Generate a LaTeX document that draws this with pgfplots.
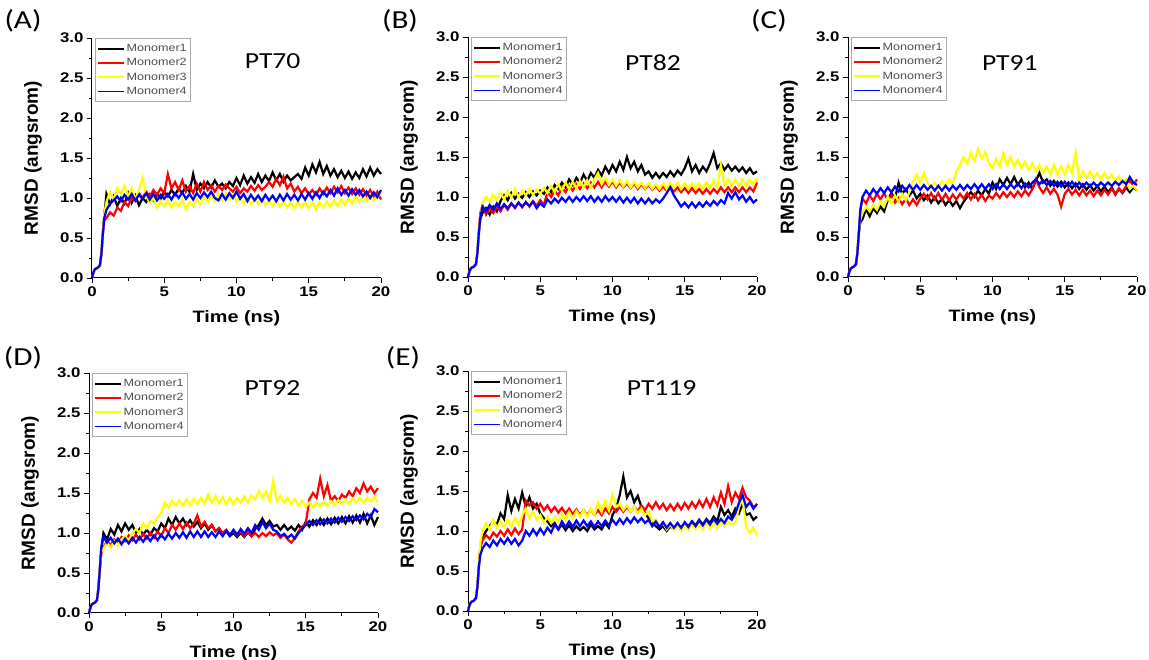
\documentclass[border=0pt]{standalone}
\usepackage{fontspec}
\setmainfont{Liberation Sans}[FakeStretch=1.2]
\newfontfamily\carl{Carlito}[FakeStretch=1.2]
\newfontfamily\ysans{Liberation Sans}
\usepackage{pgfplots}
\usepackage{pgfplotstable}
\pgfplotsset{compat=1.18}
\definecolor{legtext}{RGB}{80,80,80}
\definecolor{legframe}{RGB}{170,170,170}
\definecolor{cblack}{RGB}{0,0,0}
\definecolor{cred}{RGB}{255,0,0}
\definecolor{cyellow}{RGB}{255,255,0}
\definecolor{cblue}{RGB}{0,0,255}

\pgfplotstableread{
t a b c d
0.00 0.00 0.00 0.00 0.00
0.10 0.07 0.07 0.07 0.07
0.20 0.11 0.11 0.11 0.11
0.40 0.13 0.13 0.13 0.13
0.55 0.16 0.16 0.16 0.16
0.65 0.30 0.30 0.30 0.30
0.75 0.55 0.55 0.55 0.55
0.85 0.78 0.72 0.80 0.75
1.00 1.05 0.75 0.95 0.85
1.25 0.92 0.82 1.08 0.93
1.50 1.02 0.78 0.98 0.97
1.75 0.90 0.88 1.12 1.02
2.00 1.00 0.84 1.05 0.96
2.25 0.93 0.95 1.15 1.04
2.50 1.06 0.90 1.02 0.98
2.75 0.94 1.00 1.12 1.05
3.00 1.03 0.96 0.98 0.97
3.25 0.91 1.06 1.10 1.04
3.50 1.00 1.00 1.25 0.99
3.75 0.95 1.08 1.02 1.06
4.00 1.04 1.02 0.94 0.98
4.25 0.97 1.10 1.00 1.05
4.50 1.05 1.04 0.88 0.97
4.75 0.99 1.12 0.96 1.04
5.00 1.08 1.06 0.90 0.99
5.25 1.02 1.30 0.97 1.05
5.50 1.10 1.12 0.88 0.98
5.75 1.04 1.20 0.95 1.06
6.00 1.12 1.10 0.90 1.00
6.25 1.06 1.22 0.98 1.07
6.50 1.15 1.08 0.86 0.99
6.75 1.08 1.15 0.95 1.05
7.00 1.30 1.06 0.90 0.98
7.25 1.10 1.18 0.99 1.06
7.50 1.18 1.08 0.92 1.00
7.75 1.12 1.20 1.02 1.07
8.00 1.20 1.10 0.95 1.01
8.25 1.13 1.16 1.04 1.08
8.50 1.22 1.08 0.96 1.00
8.75 1.14 1.15 1.05 0.97
9.00 1.18 1.10 0.97 1.05
9.25 1.12 1.17 1.06 0.98
9.50 1.20 1.12 0.98 1.06
9.75 1.15 1.08 1.04 1.00
10.00 1.25 1.14 0.96 1.08
10.25 1.16 1.06 1.02 0.99
10.50 1.28 1.12 0.93 1.05
10.75 1.18 1.08 1.00 0.96
11.00 1.26 1.15 0.92 1.04
11.25 1.19 1.09 0.99 0.97
11.50 1.30 1.16 0.93 1.03
11.75 1.20 1.10 1.00 0.96
12.00 1.28 1.14 0.91 1.04
12.25 1.21 1.20 0.98 0.97
12.50 1.32 1.14 0.90 1.03
12.75 1.22 1.24 0.97 0.96
13.00 1.30 1.16 0.89 1.04
13.25 1.20 1.27 0.96 0.97
13.50 1.28 1.12 0.88 1.05
13.75 1.22 1.18 0.95 0.98
14.00 1.26 1.08 0.87 1.04
14.25 1.30 1.14 0.95 0.97
14.50 1.24 1.06 0.88 1.05
14.75 1.38 1.12 0.96 0.98
15.00 1.28 1.05 0.87 1.06
15.25 1.42 1.10 0.95 0.99
15.50 1.32 1.04 0.86 1.07
15.75 1.45 1.12 0.95 1.00
16.00 1.30 1.05 0.88 1.08
16.25 1.40 1.13 0.96 1.02
16.50 1.28 1.06 0.89 1.10
16.75 1.36 1.14 0.97 1.03
17.00 1.26 1.07 0.90 1.12
17.25 1.34 1.15 0.98 1.04
17.50 1.25 1.06 0.91 1.10
17.75 1.33 1.13 1.00 1.03
18.00 1.24 1.05 0.93 1.11
18.25 1.32 1.12 1.02 1.04
18.50 1.25 1.04 0.95 1.10
18.75 1.36 1.11 1.03 1.02
19.00 1.27 1.03 0.96 1.08
19.25 1.38 1.10 1.04 1.00
19.50 1.28 1.02 0.97 1.07
19.75 1.36 1.08 1.02 1.01
20.00 1.30 0.98 1.05 1.10
}\tA

\pgfplotstableread{
t a b c d
0.00 0.00 0.00 0.00 0.00
0.10 0.07 0.07 0.07 0.07
0.20 0.11 0.11 0.11 0.11
0.40 0.13 0.13 0.13 0.13
0.55 0.16 0.16 0.16 0.16
0.65 0.30 0.30 0.30 0.30
0.75 0.55 0.55 0.55 0.55
0.85 0.72 0.80 0.75 0.74
1.00 0.80 0.90 0.92 0.88
1.25 0.86 0.78 1.00 0.82
1.50 0.78 0.86 0.94 0.90
1.75 0.88 0.80 1.03 0.84
2.00 0.82 0.88 0.96 0.92
2.25 0.95 0.82 1.05 0.85
2.50 1.02 0.90 0.97 0.91
2.75 0.96 0.84 1.08 0.86
3.00 1.05 0.92 0.99 0.92
3.25 0.98 0.86 1.10 0.87
3.50 1.04 0.93 1.00 0.93
3.75 0.99 0.87 1.08 0.88
4.00 1.06 0.94 1.02 0.93
4.25 1.00 0.88 1.10 0.89
4.50 1.07 0.95 1.03 0.94
4.75 1.02 0.89 1.09 0.86
5.00 1.08 0.96 1.04 0.92
5.25 1.04 0.90 1.12 0.88
5.50 1.12 1.06 1.05 0.97
5.75 1.06 1.00 1.14 0.92
6.00 1.15 1.08 1.06 0.98
6.25 1.10 1.02 1.16 0.93
6.50 1.18 1.12 1.08 0.99
6.75 1.12 1.06 1.18 0.94
7.00 1.22 1.14 1.10 1.00
7.25 1.15 1.08 1.19 0.94
7.50 1.24 1.16 1.11 1.00
7.75 1.18 1.10 1.20 0.95
8.00 1.28 1.17 1.12 1.01
8.25 1.20 1.11 1.21 0.95
8.50 1.30 1.18 1.12 1.01
8.75 1.24 1.12 1.22 0.94
9.00 1.34 1.19 1.30 1.00
9.25 1.27 1.12 1.16 0.94
9.50 1.38 1.19 1.24 1.01
9.75 1.30 1.13 1.15 0.95
10.00 1.40 1.19 1.22 1.00
10.25 1.32 1.12 1.14 0.94
10.50 1.44 1.18 1.21 1.00
10.75 1.34 1.12 1.13 0.93
11.00 1.50 1.17 1.20 0.99
11.25 1.36 1.11 1.12 0.93
11.50 1.44 1.17 1.19 0.99
11.75 1.32 1.10 1.12 0.92
12.00 1.40 1.16 1.18 0.98
12.25 1.28 1.10 1.11 0.92
12.50 1.32 1.15 1.17 0.98
12.75 1.24 1.09 1.10 0.92
13.00 1.30 1.14 1.16 0.97
13.25 1.24 1.08 1.10 0.93
13.50 1.30 1.13 1.17 0.98
13.75 1.25 1.08 1.10 1.05
14.00 1.32 1.13 1.18 1.12
14.25 1.26 1.07 1.11 1.02
14.50 1.33 1.12 1.18 0.95
14.75 1.28 1.06 1.10 0.88
15.00 1.36 1.11 1.17 0.93
15.25 1.48 1.05 1.10 0.87
15.50 1.32 1.11 1.17 0.93
15.75 1.40 1.05 1.10 0.87
16.00 1.30 1.10 1.17 0.93
16.25 1.38 1.04 1.10 0.88
16.50 1.32 1.10 1.18 0.94
16.75 1.42 1.04 1.11 0.89
17.00 1.55 1.10 1.20 0.95
17.25 1.36 1.05 1.12 0.90
17.50 1.42 1.12 1.40 0.96
17.75 1.34 1.06 1.14 0.92
18.00 1.40 1.12 1.22 1.05
18.25 1.33 1.06 1.14 0.98
18.50 1.38 1.12 1.22 1.06
18.75 1.32 1.06 1.14 0.97
19.00 1.37 1.12 1.22 1.02
19.25 1.30 1.06 1.14 0.94
19.50 1.36 1.12 1.22 1.00
19.75 1.29 1.07 1.15 0.93
20.00 1.32 1.18 1.24 0.97
}\tB

\pgfplotstableread{
t a b c d
0.00 0.00 0.00 0.00 0.00
0.10 0.07 0.07 0.07 0.07
0.20 0.11 0.11 0.11 0.11
0.40 0.13 0.13 0.13 0.13
0.55 0.16 0.16 0.16 0.16
0.65 0.30 0.30 0.30 0.30
0.75 0.55 0.55 0.55 0.55
0.85 0.68 0.85 0.72 0.82
1.00 0.72 0.98 0.80 1.00
1.25 0.85 0.92 0.88 1.08
1.50 0.76 1.02 0.82 1.02
1.75 0.86 0.95 0.90 1.10
2.00 0.80 1.04 0.84 1.04
2.25 0.88 0.97 0.94 1.11
2.50 0.82 1.05 0.88 1.05
2.75 0.96 0.96 1.00 1.12
3.00 1.05 1.02 0.92 1.06
3.25 0.98 0.93 1.02 1.13
3.50 1.18 0.99 0.94 1.07
3.75 1.04 0.91 1.04 1.14
4.00 1.10 0.98 0.96 1.08
4.25 1.02 0.90 1.06 1.15
4.50 1.08 0.97 1.20 1.09
4.75 0.98 0.90 1.28 1.15
5.00 1.04 0.98 1.18 1.09
5.25 0.96 1.04 1.30 1.15
5.50 1.02 0.97 1.18 1.09
5.75 0.93 1.05 1.12 1.14
6.00 1.00 0.97 1.18 1.08
6.25 0.92 1.05 1.12 1.14
6.50 0.98 0.96 1.20 1.08
6.75 0.90 1.04 1.14 1.14
7.00 0.96 0.96 1.22 1.08
7.25 0.89 1.03 1.16 1.14
7.50 0.95 0.97 1.32 1.09
7.75 0.86 1.04 1.40 1.15
8.00 0.94 0.98 1.50 1.09
8.25 1.00 1.05 1.42 1.15
8.50 1.06 0.97 1.55 1.10
8.75 1.00 1.04 1.45 1.16
9.00 1.08 0.96 1.60 1.10
9.25 1.02 1.03 1.48 1.16
9.50 1.10 0.95 1.56 1.10
9.75 1.04 1.02 1.42 1.16
10.00 1.18 0.98 1.36 1.10
10.25 1.10 1.05 1.48 1.16
10.50 1.22 0.99 1.38 1.10
10.75 1.15 1.06 1.55 1.16
11.00 1.24 1.00 1.40 1.10
11.25 1.16 1.06 1.50 1.16
11.50 1.25 1.00 1.38 1.11
11.75 1.15 1.07 1.46 1.17
12.00 1.22 1.01 1.36 1.11
12.25 1.12 1.08 1.44 1.17
12.50 1.18 1.02 1.34 1.12
12.75 1.10 1.10 1.42 1.18
13.00 1.20 1.22 1.32 1.22
13.25 1.30 1.12 1.40 1.16
13.50 1.18 1.05 1.30 1.21
13.75 1.22 1.12 1.38 1.15
14.00 1.14 1.04 1.28 1.20
14.25 1.20 1.10 1.40 1.14
14.50 1.13 1.03 1.28 1.19
14.75 1.19 0.88 1.38 1.13
15.00 1.12 1.04 1.28 1.19
15.25 1.18 1.10 1.40 1.13
15.50 1.11 1.03 1.30 1.19
15.75 1.17 1.09 1.55 1.13
16.00 1.10 1.02 1.22 1.18
16.25 1.16 1.09 1.32 1.13
16.50 1.09 1.02 1.24 1.18
16.75 1.15 1.08 1.32 1.13
17.00 1.08 1.01 1.24 1.18
17.25 1.14 1.08 1.30 1.13
17.50 1.07 1.02 1.22 1.18
17.75 1.13 1.09 1.30 1.14
18.00 1.06 1.03 1.22 1.18
18.25 1.12 1.10 1.28 1.14
18.50 1.03 1.04 1.20 1.19
18.75 1.10 1.11 1.26 1.15
19.00 1.05 1.06 1.16 1.20
19.25 1.12 1.14 1.22 1.16
19.50 1.06 1.20 1.10 1.25
19.75 1.12 1.15 1.14 1.18
20.00 1.08 1.22 1.08 1.15
}\tC

\pgfplotstableread{
t a b c d
0.00 0.00 0.00 0.00 0.00
0.10 0.07 0.07 0.07 0.07
0.20 0.11 0.11 0.11 0.11
0.40 0.13 0.13 0.13 0.13
0.55 0.16 0.16 0.16 0.16
0.65 0.30 0.30 0.30 0.30
0.75 0.55 0.55 0.55 0.55
0.85 0.80 0.74 0.76 0.82
1.00 1.00 0.82 0.80 0.95
1.25 0.92 0.90 0.88 0.88
1.50 1.05 0.85 0.82 0.94
1.75 0.98 0.92 0.90 0.87
2.00 1.10 0.88 0.85 0.93
2.25 1.02 0.95 0.92 0.86
2.50 1.12 0.90 0.96 0.93
2.75 1.04 0.97 0.90 0.87
3.00 1.10 0.91 1.00 0.94
3.25 1.00 0.98 1.05 0.88
3.50 1.05 0.92 1.00 0.95
3.75 0.98 0.99 1.12 0.89
4.00 1.04 0.93 1.06 0.96
4.25 0.98 1.00 1.15 0.90
4.50 1.06 0.94 1.12 0.97
4.75 1.02 1.02 1.20 0.91
5.00 1.12 0.96 1.25 0.98
5.25 1.06 1.06 1.38 0.92
5.50 1.18 1.00 1.32 0.99
5.75 1.10 1.10 1.40 0.93
6.00 1.20 1.04 1.34 1.00
6.25 1.12 1.12 1.41 0.94
6.50 1.18 1.05 1.34 1.01
6.75 1.10 1.13 1.42 0.94
7.00 1.16 1.06 1.35 1.02
7.25 1.08 1.12 1.43 0.95
7.50 1.14 1.22 1.36 1.02
7.75 1.06 1.08 1.44 0.95
8.00 1.12 1.14 1.37 1.02
8.25 1.04 1.06 1.48 0.95
8.50 1.10 1.10 1.38 1.01
8.75 1.02 1.02 1.46 0.95
9.00 1.06 1.06 1.37 1.02
9.25 0.98 1.00 1.45 0.96
9.50 1.02 1.04 1.36 1.03
9.75 0.96 0.98 1.44 0.97
10.00 1.00 1.03 1.36 1.04
10.25 0.95 0.97 1.44 0.98
10.50 1.00 1.02 1.38 1.05
10.75 0.95 0.96 1.46 0.99
11.00 1.01 1.02 1.38 1.06
11.25 0.96 0.96 1.47 1.00
11.50 1.05 1.00 1.42 1.10
11.75 1.10 0.95 1.52 1.04
12.00 1.18 1.00 1.44 1.14
12.25 1.10 0.96 1.52 1.06
12.50 1.15 1.01 1.40 1.12
12.75 1.08 0.97 1.65 1.04
13.00 1.10 1.00 1.40 1.02
13.25 1.04 0.94 1.46 0.96
13.50 1.10 0.98 1.38 0.99
13.75 1.04 0.92 1.44 0.94
14.00 1.08 0.88 1.36 0.98
14.25 1.03 0.94 1.42 0.93
14.50 1.10 1.02 1.34 1.00
14.75 1.04 1.08 1.40 1.05
15.00 1.14 1.12 1.33 1.10
15.25 1.08 1.42 1.38 1.15
15.50 1.16 1.50 1.32 1.10
15.75 1.10 1.44 1.38 1.16
16.00 1.18 1.68 1.33 1.11
16.25 1.10 1.46 1.39 1.17
16.50 1.18 1.60 1.34 1.12
16.75 1.11 1.40 1.40 1.18
17.00 1.19 1.46 1.35 1.13
17.25 1.12 1.40 1.41 1.19
17.50 1.20 1.48 1.36 1.14
17.75 1.12 1.44 1.42 1.20
18.00 1.21 1.52 1.37 1.15
18.25 1.13 1.46 1.43 1.21
18.50 1.22 1.56 1.38 1.16
18.75 1.13 1.50 1.44 1.22
19.00 1.24 1.62 1.38 1.17
19.25 1.12 1.52 1.44 1.24
19.50 1.22 1.58 1.40 1.20
19.75 1.10 1.50 1.45 1.30
20.00 1.20 1.56 1.38 1.26
}\tD

\pgfplotstableread{
t a b c d
0.00 0.00 0.00 0.00 0.00
0.10 0.07 0.07 0.07 0.07
0.20 0.11 0.11 0.11 0.11
0.40 0.13 0.13 0.13 0.13
0.55 0.16 0.16 0.16 0.16
0.65 0.30 0.30 0.30 0.30
0.75 0.55 0.55 0.55 0.55
0.85 0.78 0.80 0.85 0.70
1.00 0.92 0.88 1.00 0.78
1.25 1.00 0.95 1.10 0.85
1.50 1.06 0.90 1.02 0.80
1.75 1.12 0.98 1.14 0.88
2.00 1.08 0.93 1.04 0.82
2.25 1.22 1.00 1.12 0.90
2.50 1.15 0.94 1.05 0.84
2.75 1.45 1.02 1.14 0.91
3.00 1.25 0.95 1.06 0.84
3.25 1.40 1.03 1.16 0.90
3.50 1.28 0.96 1.08 0.82
3.75 1.48 1.02 1.20 0.88
4.00 1.30 1.38 1.28 1.00
4.25 1.42 1.32 1.16 0.94
4.50 1.28 1.36 1.24 1.02
4.75 1.34 1.28 1.14 0.95
5.00 1.22 1.34 1.20 1.03
5.25 1.16 1.26 1.10 0.96
5.50 1.12 1.32 1.18 1.04
5.75 1.06 1.24 1.10 0.98
6.00 1.10 1.30 1.18 1.08
6.25 1.02 1.23 1.12 1.02
6.50 1.08 1.29 1.22 1.12
6.75 1.01 1.22 1.14 1.05
7.00 1.07 1.28 1.24 1.12
7.25 1.00 1.21 1.16 1.05
7.50 1.06 1.27 1.25 1.13
7.75 1.01 1.20 1.18 1.06
8.00 1.05 1.26 1.26 1.13
8.25 1.00 1.20 1.18 1.06
8.50 1.08 1.27 1.28 1.12
8.75 1.02 1.20 1.20 1.05
9.00 1.06 1.26 1.36 1.12
9.25 1.02 1.20 1.24 1.06
9.50 1.10 1.28 1.38 1.13
9.75 1.04 1.22 1.26 1.07
10.00 1.20 1.30 1.45 1.14
10.25 1.28 1.24 1.30 1.08
10.50 1.45 1.30 1.34 1.15
10.75 1.68 1.24 1.26 1.09
11.00 1.42 1.30 1.32 1.16
11.25 1.50 1.24 1.24 1.10
11.50 1.36 1.30 1.30 1.17
11.75 1.44 1.25 1.22 1.11
12.00 1.30 1.32 1.28 1.16
12.25 1.22 1.26 1.20 1.10
12.50 1.16 1.34 1.24 1.14
12.75 1.10 1.28 1.12 1.06
13.00 1.06 1.36 1.14 1.12
13.25 1.02 1.28 1.06 1.05
13.50 1.06 1.34 1.10 1.11
13.75 1.00 1.26 1.02 1.04
14.00 1.06 1.33 1.08 1.10
14.25 1.02 1.26 1.01 1.04
14.50 1.08 1.34 1.08 1.10
14.75 1.04 1.27 1.00 1.04
15.00 1.10 1.35 1.07 1.11
15.25 1.06 1.28 1.01 1.05
15.50 1.12 1.36 1.08 1.12
15.75 1.07 1.29 1.02 1.06
16.00 1.14 1.38 1.08 1.13
16.25 1.08 1.30 1.02 1.07
16.50 1.15 1.40 1.10 1.14
16.75 1.10 1.30 1.03 1.08
17.00 1.18 1.42 1.10 1.15
17.25 1.12 1.32 1.04 1.09
17.50 1.30 1.48 1.12 1.15
17.75 1.20 1.34 1.06 1.10
18.00 1.26 1.56 1.12 1.18
18.25 1.18 1.36 1.08 1.14
18.50 1.28 1.48 1.10 1.22
18.75 1.22 1.40 1.30 1.35
19.00 1.34 1.54 1.40 1.45
19.25 1.20 1.42 1.05 1.30
19.50 1.22 1.38 0.98 1.36
19.75 1.14 1.30 1.04 1.28
20.00 1.18 1.32 0.95 1.34
}\tE

\pgfplotsset{
  rmsd/.style={
    scale only axis, width=289pt, height=240pt, anchor=south west,
    xmin=0, xmax=20, ymin=0, ymax=3,
    axis x line*=bottom, axis y line*=left,
    axis line style={line width=1pt, cblack},
    tick align=outside, major tick length=5pt, minor tick length=3pt,
    every tick/.style={cblack, line width=0.9pt},
    xtick={0,5,10,15,20}, ytick={0,0.5,1,1.5,2,2.5,3},
    minor x tick num=1, minor y tick num=1,
    /pgf/number format/assume math mode=true,
    yticklabel style={/pgf/number format/.cd, fixed, fixed zerofill, precision=1},
    xticklabel style={/pgf/number format/.cd, fixed, precision=0},
    tick label style={font=\fontsize{14}{14}\selectfont\bfseries},
    every axis x label/.style={at={(axis description cs:0.5,-0.166)}, anchor=center,
      font=\fontsize{16.5}{16.5}\selectfont\bfseries},
    every axis y label/.style={at={(axis description cs:-0.204,0.5)}, rotate=90, anchor=center,
      font=\ysans\fontsize{19}{19}\selectfont\bfseries},
    xlabel={Time (ns)}, ylabel={RMSD (angsrom)},
    clip=false,
    legend style={at={(0.0104,1.0)}, anchor=north west, draw=legframe, line width=0.8pt,
      fill=white, font=\fontsize{10.5}{10.5}\selectfont, text=legtext,
      inner xsep=2pt, inner ysep=4.5pt, row sep=2.4pt, nodes={inner sep=1.5pt}},
    legend cell align=left,
    legend image code/.code={\draw[##1, line width=1.6pt] (0pt,0pt) -- (26pt,0pt);},
  },
  tr/.style={line width=2.2pt, no markers},
}

\newcommand{\panel}[1]{%
  \addplot[tr, cblack] table[x=t,y=a]{#1};
  \addplot[tr, cred] table[x=t,y=b]{#1};
  \addplot[tr, cyellow] table[x=t,y=c]{#1};
  \addplot[tr, cblue] table[x=t,y=d]{#1};
  \legend{Monomer1,Monomer2,Monomer3,Monomer4}
}

\begin{document}
\begin{tikzpicture}
\path[use as bounding box] (0pt,0pt) rectangle (1149pt,659pt);

\begin{axis}[rmsd, at={(92pt,381pt)}]
\panel{\tA}
\node[font=\carl\fontsize{23}{23}\selectfont] at (axis cs:12.5,2.71) {PT70};
\end{axis}

\begin{axis}[rmsd, at={(468pt,382pt)}]
\panel{\tB}
\node[font=\carl\fontsize{23}{23}\selectfont] at (axis cs:12.8,2.68) {PT82};
\end{axis}

\begin{axis}[rmsd, at={(848pt,382pt)}]
\panel{\tC}
\node[font=\carl\fontsize{23}{23}\selectfont] at (axis cs:11.2,2.68) {PT91};
\end{axis}

\begin{axis}[rmsd, at={(89pt,46pt)}]
\panel{\tD}
\node[font=\carl\fontsize{23}{23}\selectfont] at (axis cs:12.7,2.81) {PT92};
\end{axis}

\begin{axis}[rmsd, at={(468pt,48pt)}]
\panel{\tE}
\node[font=\carl\fontsize{23}{23}\selectfont] at (axis cs:13.4,2.79) {PT119};
\end{axis}

\node[font=\carl\fontsize{26}{26}\selectfont] at (23pt,638pt) {(A)};
\node[font=\carl\fontsize{26}{26}\selectfont] at (400pt,638pt) {(B)};
\node[font=\carl\fontsize{26}{26}\selectfont] at (769pt,638pt) {(C)};
\node[font=\carl\fontsize{26}{26}\selectfont] at (23pt,301pt) {(D)};
\node[font=\carl\fontsize{26}{26}\selectfont] at (403pt,301pt) {(E)};
\end{tikzpicture}
\end{document}
